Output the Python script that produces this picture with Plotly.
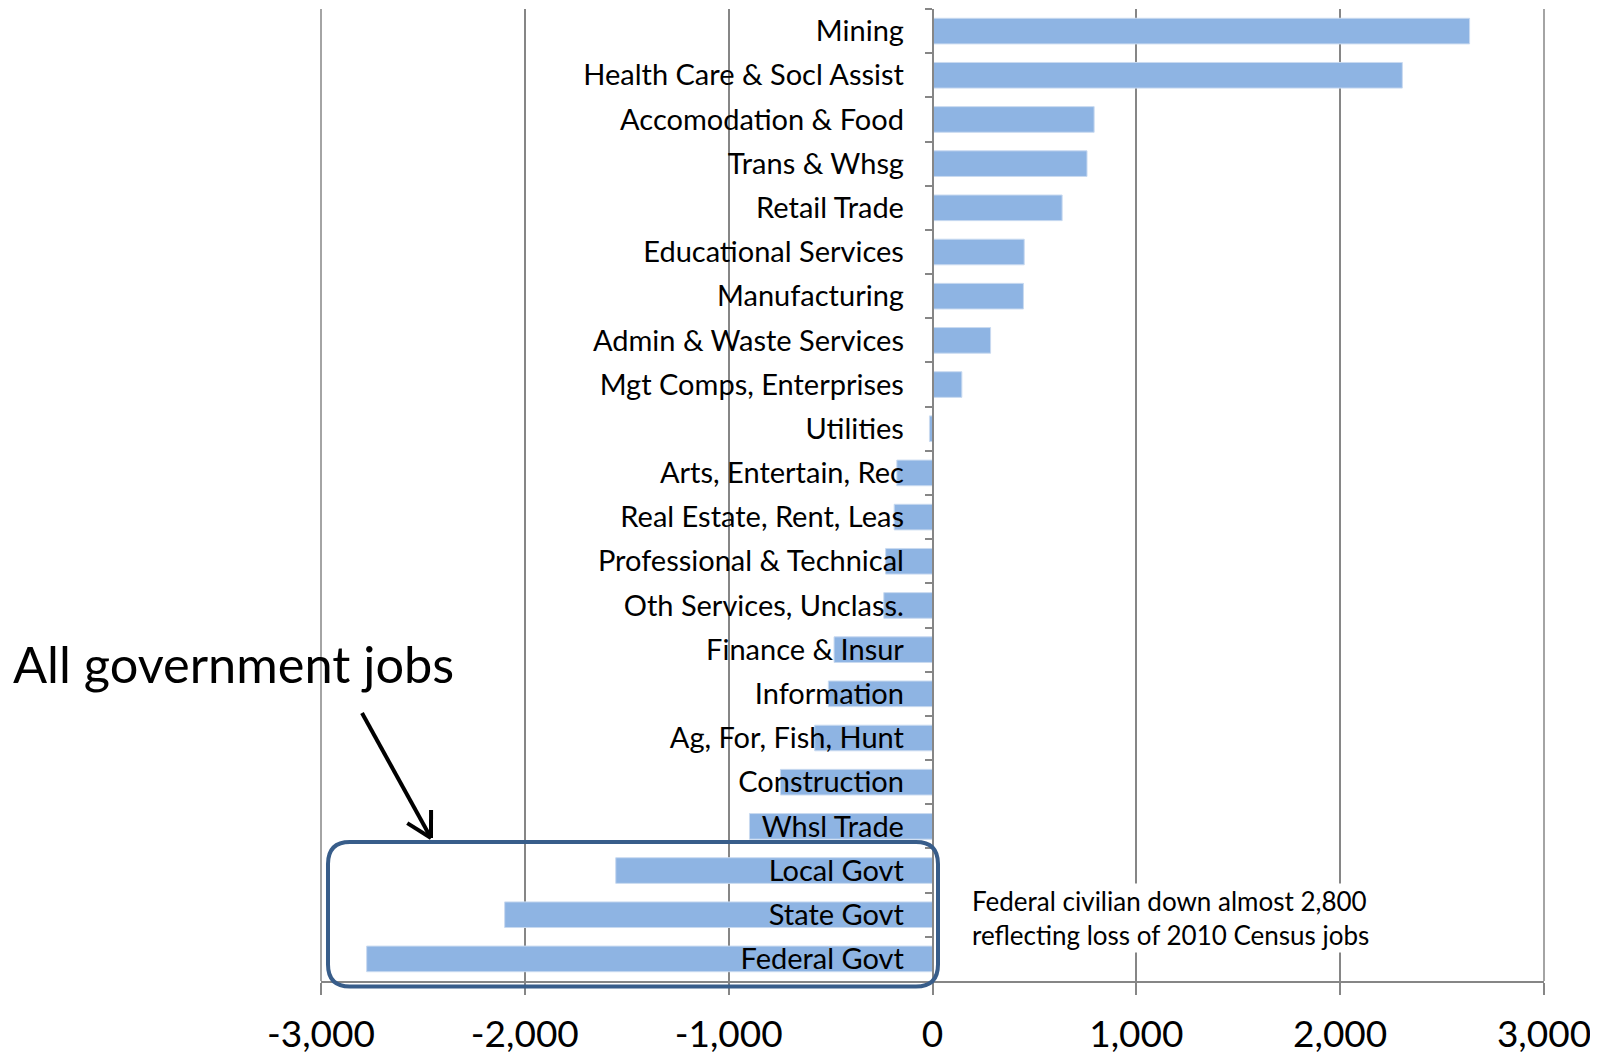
import math
import plotly.graph_objects as go

categories = ["Mining", "Health Care & Socl Assist", "Accomodation & Food", "Trans & Whsg",
              "Retail Trade", "Educational Services", "Manufacturing", "Admin & Waste Services",
              "Mgt Comps, Enterprises", "Utilities", "Arts, Entertain, Rec", "Real Estate, Rent, Leas",
              "Professional & Technical", "Oth Services, Unclass.", "Finance & Insur", "Information",
              "Ag, For, Fish, Hunt", "Construction", "Whsl Trade", "Local Govt", "State Govt", "Federal Govt"]
values = [2635, 2305, 793, 758, 636, 450, 446, 285, 144, -15, -175, -188, -230, -239,
          -483, -511, -578, -746, -898, -1554, -2099, -2776]
x_tickvals = [-3000, -2000, -1000, 0, 1000, 2000, 3000]
x_ticktext = ["-3,000", "-2,000", "-1,000", "0", "1,000", "2,000", "3,000"]

OFF = 8  # page body margin
W, H = 1590, 1047
ML, MR, MT, MB = 313, 54, 1, 74
PW, PH = W - ML - MR, H - MT - MB

def px(xp, yp):
    """page pixel -> paper coords"""
    fx, fy = xp - OFF, yp - OFF
    return (fx - ML) / PW, (H - MB - fy) / PH

FONT = "Lato"
GRID = "#868686"

fig = go.Figure(go.Bar(
    x=values, y=categories, orientation="h",
    marker=dict(color="#8EB4E3", line=dict(color="#C9DAF0", width=1)),
))

# gridlines at the range ends (plotly omits them)
shapes = []
for xe in (0, 1):
    shapes.append(dict(type="line", xref="paper", yref="paper", x0=xe, x1=xe, y0=0, y1=1,
                       line=dict(color=GRID, width=1.5), layer="below"))

# rounded rectangle
L, R, T, B, r = 328, 938, 842, 986.5, 22
pts = [("M", L + r, T), ("L", R - r, T), ("Q", R, T, R, T + r), ("L", R, B - r),
       ("Q", R, B, R - r, B), ("L", L + r, B), ("Q", L, B, L, B - r), ("L", L, T + r),
       ("Q", L, T, L + r, T)]
path = ""
for p in pts:
    cmd = p[0]
    coords = p[1:]
    parts = []
    for i in range(0, len(coords), 2):
        a, b = px(coords[i], coords[i + 1])
        parts.append(f"{a:.5f},{b:.5f}")
    path += cmd + " " + " ".join(parts) + " "
path += "Z"

shapes.append(dict(type="path", path=path, xref="paper", yref="paper",
                   line=dict(color="#385D8A", width=4), fillcolor="rgba(0,0,0,0)", layer="above"))

# arrow
tx, ty = 362, 713
hx, hy = 431, 838
dx, dy = tx - hx, ty - hy
n = math.hypot(dx, dy)
ux, uy = dx / n, dy / n
x0, y0 = px(tx, ty)
x1, y1 = px(hx, hy)
shapes.append(dict(type="line", xref="paper", yref="paper", x0=x0, y0=y0, x1=x1, y1=y1,
                   line=dict(color="black", width=4)))
for ang in (math.radians(29), math.radians(-29)):
    ax_ = ux * math.cos(ang) - uy * math.sin(ang)
    ay_ = ux * math.sin(ang) + uy * math.cos(ang)
    ex, ey = px(hx + ax_ * 28, hy + ay_ * 28)
    shapes.append(dict(type="line", xref="paper", yref="paper", x0=x1, y0=y1, x1=ex, y1=ey,
                       line=dict(color="black", width=4)))

ax0, ay0 = px(11, 663)
nx, ny = px(970, 918)
annotations = [
    dict(text="All government jobs", xref="paper", yref="paper", x=ax0, y=ay0,
         xanchor="left", yanchor="middle", showarrow=False,
         font=dict(family=FONT, size=50.5, color="black")),
    dict(text="Federal civilian down almost 2,800<br>reflecting loss of 2010 Census jobs",
         xref="paper", yref="paper", x=nx, y=ny, xanchor="left", yanchor="middle",
         align="left", showarrow=False, bgcolor="white",
         font=dict(family=FONT, size=26, color="black")),
]

fig.update_layout(
    width=W, height=H, margin=dict(l=ML, r=MR, t=MT, b=MB, autoexpand=False),
    paper_bgcolor="white", plot_bgcolor="white",
    showlegend=False, bargap=0.42,
    shapes=shapes, annotations=annotations,
    xaxis=dict(range=[-3000, 3000], tickvals=x_tickvals, ticktext=x_ticktext,
               showgrid=True, gridcolor=GRID, gridwidth=1.5, zeroline=False,
               showline=True, linecolor=GRID, linewidth=1.5,
               ticks="outside", ticklen=12, tickcolor=GRID, tickwidth=1.5,
               ticklabelstandoff=8, automargin=False,
               tickfont=dict(family=FONT, size=37, color="black")),
    yaxis=dict(autorange="reversed", anchor="free", position=0.5, automargin=False,
               showline=True, linecolor=GRID, linewidth=1.5, showgrid=False,
               ticks="outside", tickson="boundaries", ticklen=7, tickcolor=GRID, tickwidth=1.5,
               ticklabelstandoff=22,
               tickfont=dict(family=FONT, size=29, color="black")),
)

fig.write_html("out.html")
